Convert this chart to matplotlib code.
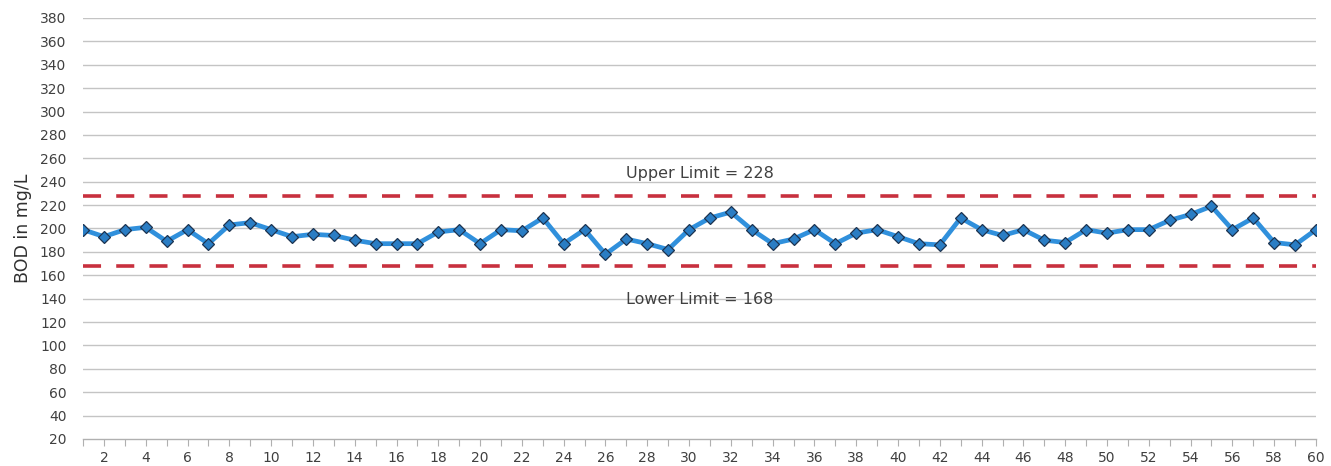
import matplotlib.pyplot as plt
import numpy as np

# sample number and BOD readings (mg/L)
samples = np.arange(1, 61)
bod = [199, 193, 199, 201, 189, 199, 187, 203, 205, 199,
       193, 195, 194, 190, 187, 187, 187, 197, 199, 187,
       199, 198, 209, 187, 199, 178, 191, 187, 182, 199,
       209, 214, 199, 187, 191, 199, 187, 196, 199, 193,
       187, 186, 209, 199, 194, 199, 190, 188, 199, 196,
       199, 199, 207, 212, 219, 199, 209, 188, 186, 199]
upper_limit = 228
lower_limit = 168
y_ticks = list(range(20, 381, 20))

fig = plt.figure(figsize=(13.31, 4.66), dpi=100)
ax = fig.add_axes([0.0624, 0.058, 0.9263, 0.9034])

# grid
for y in y_ticks[1:]:
    ax.axhline(y, color='#c4c4c4', linewidth=1.0, zorder=0)

# control limits
for lim in (upper_limit, lower_limit):
    ax.axhline(lim, color='#c8303e', linewidth=2.6, dashes=(5.0, 4.2), zorder=2)

# data
ax.plot(samples, bod, color='#3090dc', linewidth=3.4, zorder=3,
        marker='D', markersize=6.0, markerfacecolor='#2a7dc4',
        markeredgecolor='#1c3350', markeredgewidth=0.9)

ax.text(30.5, 247, f"Upper Limit = {upper_limit}", ha='center', va='center',
        fontsize=11.5, color='#404040')
ax.text(30.5, 139.5, f"Lower Limit = {lower_limit}", ha='center', va='center',
        fontsize=11.5, color='#404040')

ax.set_xlim(1, 60)
ax.set_ylim(20, 380)
ax.set_yticks(y_ticks)
ax.set_xticks(samples)
ax.set_xticklabels([str(s) if s % 2 == 0 else '' for s in samples])

for side in ('top', 'right', 'left'):
    ax.spines[side].set_visible(False)
ax.spines['bottom'].set_color('#b0b0b0')
ax.spines['bottom'].set_linewidth(1.0)

ax.tick_params(axis='y', length=0, labelsize=10, labelcolor='#404040', pad=12)
ax.tick_params(axis='x', length=5, color='#b0b0b0', direction='out',
               labelsize=10, labelcolor='#404040', pad=4)

ax.set_ylabel("BOD in mg/L", fontsize=12.5, color='#303030', labelpad=6)

fig.savefig("out.png", dpi=100)
